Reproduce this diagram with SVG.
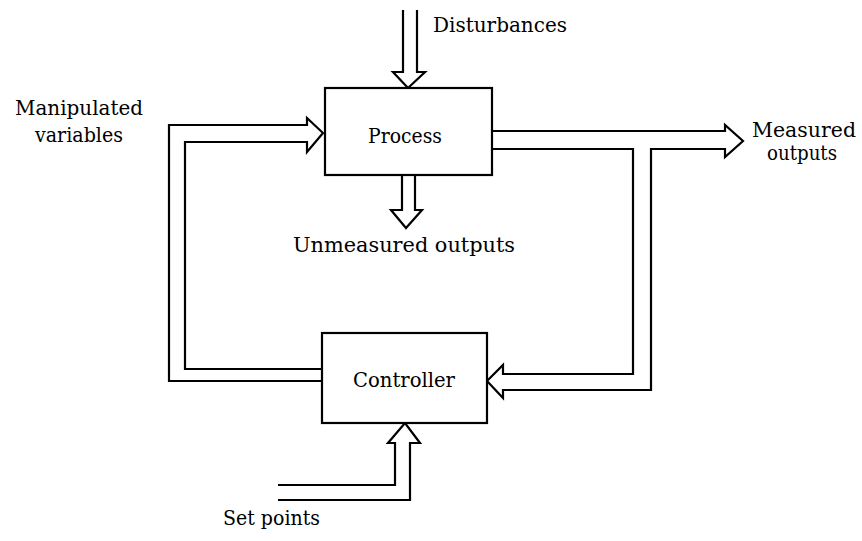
<svg xmlns="http://www.w3.org/2000/svg" width="862" height="541" viewBox="0 0 862 541">
<style>
.box{fill:#fff;stroke:#000;stroke-width:2.2}
.ar{fill:#fff;stroke:#000;stroke-width:2.2;stroke-linejoin:miter}
text{font-family:"DejaVu Serif","Liberation Serif",serif;font-size:21px;fill:#000}
</style>
<rect width="862" height="541" fill="#fff"/>
<g id="connectors">
<path class="ar" d="M403,10 V72 H393 L408,88 L425,72 H417 V10"/>
<path class="ar" d="M402,175 V210 H391 L406,228 L422,210 H415 V175"/>
<path class="ar" d="M322,381 H169 V125 H307 V118 L323,133 L307,152 V142 H185 V369 H322"/>
<path class="ar" d="M492,131 H725 V125 L743,141 L725,157 V149 H651 V390 H503 V398 L487,381 L503,365 V374 H633 V149 H492"/>
<path class="ar" d="M278,485 H395 V443 H388 L405,423 L420,443 H410 V500 H278"/>
</g>
<g id="process">
<rect class="box" x="325" y="88" width="167" height="87"/>
<text x="368" y="143" textLength="74" lengthAdjust="spacingAndGlyphs">Process</text>
</g>
<g id="controller">
<rect class="box" x="322" y="333" width="165" height="90"/>
<text x="353" y="387" textLength="102" lengthAdjust="spacingAndGlyphs">Controller</text>
</g>
<g id="labels">
<text x="433" y="32" textLength="134" lengthAdjust="spacingAndGlyphs">Disturbances</text>
<text x="15" y="115" textLength="128" lengthAdjust="spacingAndGlyphs">Manipulated</text>
<text x="35" y="142" textLength="88" lengthAdjust="spacingAndGlyphs">variables</text>
<text x="293" y="252" textLength="222" lengthAdjust="spacingAndGlyphs">Unmeasured outputs</text>
<text x="752" y="137" textLength="104" lengthAdjust="spacingAndGlyphs">Measured</text>
<text x="767" y="160" textLength="70" lengthAdjust="spacingAndGlyphs">outputs</text>
<text x="223" y="525" textLength="97" lengthAdjust="spacingAndGlyphs">Set points</text>
</g>
</svg>
